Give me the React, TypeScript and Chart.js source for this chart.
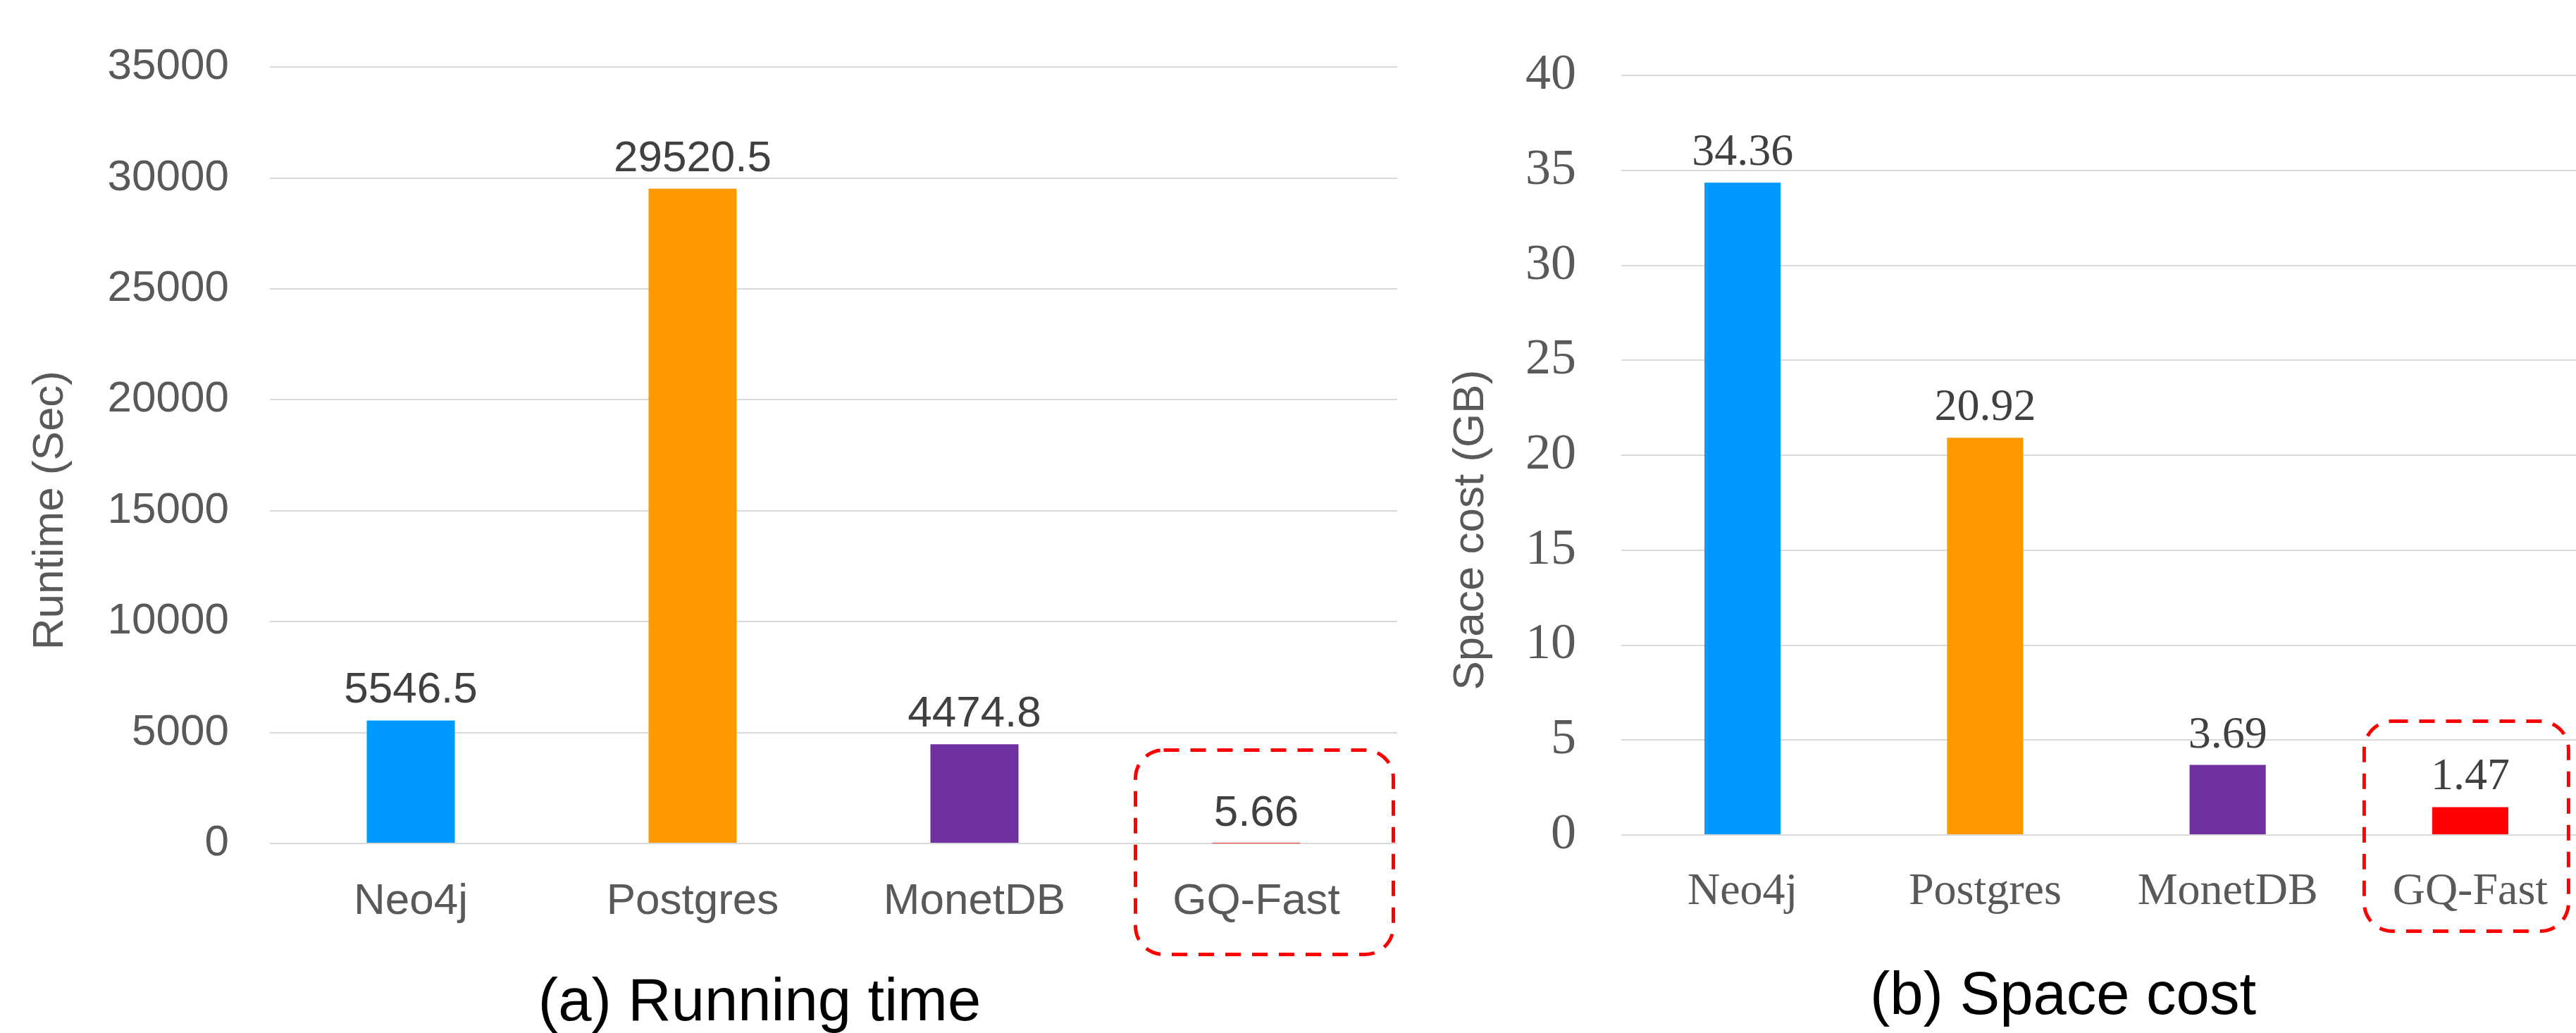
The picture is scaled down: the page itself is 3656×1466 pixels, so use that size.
import React, { useEffect, useRef } from "react";
import { Chart, registerables } from "chart.js";

Chart.register(...registerables);

// ---- data ----
const categories = ["Neo4j", "Postgres", "MonetDB", "GQ-Fast"];
const runtimeValues = [5546.5, 29520.5, 4474.8, 5.66];
const spaceValues = [34.36, 20.92, 3.69, 1.47];
const barColors = ["#0099FF", "#FF9900", "#7030A0", "#FF0000"];
const runtimeTicks = [0, 5000, 10000, 15000, 20000, 25000, 30000, 35000];
const spaceTicks = [0, 5, 10, 15, 20, 25, 30, 35, 40];
const highlightIndex = 3;

const SANS = "'Liberation Sans', Arial, sans-serif";
const SERIF = "'Liberation Serif', 'Times New Roman', serif";

type PanelCfg = {
  left: number;
  width: number;
  values: number[];
  ticks: number[];
  title: string;
  yTitle: string;
  family: string;
  tickSize: number;
  labelSize: number;
  catSize: number;
  padTop: number;
  padBottom: number;
  yAxisWidth: number;
  yTickPad: number;
  xTickPad: number;
  barPct: number;
  yTitleDx: number;
  yTitleDy: number;
  titleDx: number;
  titleDy: number;
  box: { dx1: number; dx2: number; dy1: number; dy2: number };
};

const leftPanel: PanelCfg = {
  left: 0,
  width: 1983,
  values: runtimeValues,
  ticks: runtimeTicks,
  title: "(a) Running time",
  yTitle: "Runtime (Sec)",
  family: SANS,
  tickSize: 62,
  labelSize: 62,
  catSize: 62,
  padTop: 73,
  padBottom: 119,
  yAxisWidth: 383,
  yTickPad: 58,
  xTickPad: 38,
  barPct: 0.3125,
  yTitleDx: -311,
  yTitleDy: 78,
  titleDx: 695,
  titleDy: 251,
  box: { dx1: -171.5, dx2: 194.5, dy1: -132.5, dy2: 157.5 },
};

const rightPanel: PanelCfg = {
  left: 2000,
  width: 1678,
  values: spaceValues,
  ticks: spaceTicks,
  title: "(b) Space cost",
  yTitle: "Space cost (GB)",
  family: SERIF,
  tickSize: 72,
  labelSize: 64,
  catSize: 64,
  padTop: 71,
  padBottom: 131,
  yAxisWidth: 301,
  yTickPad: 64,
  xTickPad: 35,
  barPct: 0.314,
  yTitleDx: -213,
  yTitleDy: 106,
  titleDx: 627,
  titleDy: 254,
  box: { dx1: -150.5, dx2: 139.5, dy1: -161.5, dy2: 136.5 },
};

function Panel({ cfg }: { cfg: PanelCfg }) {
  const ref = useRef<HTMLCanvasElement | null>(null);

  useEffect(() => {
    if (!ref.current) return;

    const labelPlugin = {
      id: "valueLabels",
      afterDatasetsDraw(chart: any) {
        const ctx = chart.ctx;
        const meta = chart.getDatasetMeta(0);
        ctx.save();
        ctx.font = `${cfg.labelSize}px ${cfg.family}`;
        ctx.fillStyle = "#404040";
        ctx.textAlign = "center";
        ctx.textBaseline = "alphabetic";
        meta.data.forEach((bar: any, i: number) => {
          ctx.fillText(String(cfg.values[i]), bar.x, bar.y - 25);
        });
        ctx.restore();
      },
    };

    const boxPlugin = {
      id: "highlightBox",
      afterDraw(chart: any) {
        const ctx = chart.ctx;
        const xs = chart.scales.x;
        const ys = chart.scales.y;
        const cx = xs.getPixelForValue(highlightIndex);
        const zy = ys.getPixelForValue(0);
        const x1 = cx + cfg.box.dx1;
        const x2 = cx + cfg.box.dx2;
        const y1 = zy + cfg.box.dy1;
        const y2 = zy + cfg.box.dy2;
        ctx.save();
        ctx.strokeStyle = "#FF0000";
        ctx.lineWidth = 5;
        ctx.setLineDash([22, 16]);
        ctx.beginPath();
        ctx.roundRect(x1, y1, x2 - x1, y2 - y1, 40);
        ctx.stroke();
        ctx.restore();
      },
    };

    const titlesPlugin = {
      id: "panelTitles",
      afterDraw(chart: any) {
        const ctx = chart.ctx;
        const a = chart.chartArea;
        // rotated y-axis title
        ctx.save();
        ctx.translate(a.left + cfg.yTitleDx, (a.top + a.bottom) / 2 + cfg.yTitleDy);
        ctx.rotate(-Math.PI / 2);
        ctx.font = `62px ${SANS}`;
        ctx.fillStyle = "#595959";
        ctx.textAlign = "center";
        ctx.textBaseline = "middle";
        ctx.fillText(cfg.yTitle, 0, 0);
        ctx.restore();
        // panel caption below the axis
        ctx.save();
        ctx.font = `85px ${SANS}`;
        ctx.fillStyle = "#000000";
        ctx.textAlign = "center";
        ctx.textBaseline = "alphabetic";
        ctx.fillText(cfg.title, a.left + cfg.titleDx, a.bottom + cfg.titleDy);
        ctx.restore();
      },
    };

    const chart = new Chart(ref.current, {
      type: "bar",
      data: {
        labels: categories,
        datasets: [
          {
            data: cfg.values,
            backgroundColor: barColors,
            borderWidth: 0,
            categoryPercentage: 1,
            barPercentage: cfg.barPct,
          },
        ],
      },
      options: {
        responsive: false,
        animation: false,
        devicePixelRatio: 1,
        layout: {
          padding: { left: 0, right: 0, top: cfg.padTop, bottom: cfg.padBottom },
        },
        plugins: {
          legend: { display: false },
          tooltip: { enabled: false },
          title: { display: false },
        },
        scales: {
          x: {
            grid: { display: false },
            border: { display: false },
            ticks: {
              color: "#595959",
              font: { family: cfg.family, size: cfg.catSize, lineHeight: 1.2 },
              padding: cfg.xTickPad,
              maxRotation: 0,
              autoSkip: false,
            },
            afterFit: (s: any) => {
              s.height = 150;
            },
          },
          y: {
            min: cfg.ticks[0],
            max: cfg.ticks[cfg.ticks.length - 1],
            ticks: {
              stepSize: cfg.ticks[1] - cfg.ticks[0],
              color: "#595959",
              font: { family: cfg.family, size: cfg.tickSize, lineHeight: 1.2 },
              padding: cfg.yTickPad,
              callback: (v: any) => String(v),
            },
            grid: { color: "#D9D9D9", lineWidth: 2, drawTicks: false },
            border: { display: false },
            afterFit: (s: any) => {
              s.width = cfg.yAxisWidth;
            },
          },
        },
      } as any,
      plugins: [labelPlugin, boxPlugin, titlesPlugin],
    });

    return () => chart.destroy();
  }, [cfg]);

  return (
    <canvas
      ref={ref}
      width={cfg.width}
      height={1466}
      style={{
        position: "absolute",
        left: cfg.left,
        top: 0,
        width: cfg.width,
        height: 1466,
      }}
    />
  );
}

export default function App() {
  return (
    <div
      style={{
        position: "absolute",
        left: 0,
        top: 0,
        width: 3656,
        height: 1466,
        overflow: "hidden",
        background: "#FFFFFF",
      }}
    >
      <Panel cfg={leftPanel} />
      <Panel cfg={rightPanel} />
    </div>
  );
}
